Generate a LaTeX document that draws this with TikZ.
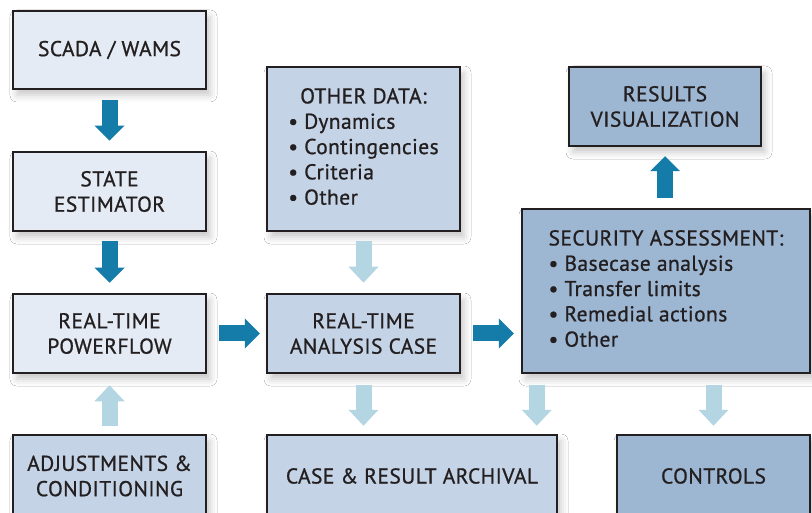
\documentclass[tikz,border=0pt]{standalone}
\usepackage{fontspec}
\setmainfont{PT Sans}[FakeBold=0.8, LetterSpace=2]
\usetikzlibrary{arrows.meta,shadows.blur}
\definecolor{lightfill}{HTML}{E4EBF4}
\definecolor{midfill}{HTML}{C4D3E6}
\definecolor{darkfill}{HTML}{9DB6D2}
\definecolor{boxline}{HTML}{231F20}
\definecolor{txt}{HTML}{231F20}
\definecolor{darkarrow}{HTML}{157BA9}
\definecolor{lightarrow}{HTML}{B4D6E3}
\begin{document}
\begin{tikzpicture}[x=1pt,y=-1pt,
  box/.style={draw=boxline, line width=2.5pt, inner sep=0pt, align=center,
    font=\fontsize{21.5}{25.3}\selectfont, text=txt,
    blur shadow={shadow xshift=4pt, shadow yshift=-6pt, shadow blur radius=7pt, shadow opacity=22}},
  lbox/.style={box, fill=lightfill},
  mbox/.style={box, fill=midfill},
  dbox/.style={box, fill=darkfill},
  darr/.style={draw=darkarrow, line width=16pt,
    -{Triangle[width=30pt,length=15pt,line width=0pt]}},
  larr/.style={draw=lightarrow, line width=16pt,
    -{Triangle[width=30pt,length=16pt,line width=0pt]}},
]
\useasboundingbox (0,0) rectangle (812,513);
\fill[white] (0,0) rectangle (812,513);

\node[lbox, minimum width=193pt, minimum height=78pt] (scada) at (109.5,50) {SCADA / WAMS};
\node[lbox, minimum width=193pt, minimum height=79pt] (state) at (109.5,191.5) {STATE\\ESTIMATOR};
\node[lbox, minimum width=193pt, minimum height=79pt] (power) at (109.5,333.5) {REAL-TIME\\POWERFLOW};
\node[mbox, minimum width=193pt, minimum height=82pt] (adjust) at (109.5,476) {ADJUSTMENTS \&\\CONDITIONING};

\node[mbox, minimum width=193pt, minimum height=164pt] (other) at (363.5,149)
  {\begin{tabular}{@{}l@{}}\multicolumn{1}{@{}c@{}}{OTHER DATA:}\\ • Dynamics\\ • Contingencies\\ • Criteria\\ • Other\end{tabular}};
\node[mbox, minimum width=193pt, minimum height=79pt] (analysis) at (363.5,333.5) {REAL-TIME\\ANALYSIS CASE};
\node[mbox, minimum width=290pt, minimum height=82pt] (archival) at (412,476) {CASE \& RESULT ARCHIVAL};

\node[dbox, minimum width=192pt, minimum height=79pt] (results) at (665,106.5) {RESULTS\\VISUALIZATION};
\node[dbox, minimum width=288pt, minimum height=164pt] (security) at (666,291)
  {\begin{tabular}{@{}l@{}}SECURITY ASSESSMENT:\\ • Basecase analysis\\ • Transfer limits\\ • Remedial actions\\ • Other\end{tabular}};
\node[dbox, minimum width=193pt, minimum height=82pt] (controls) at (713.5,476) {CONTROLS};

\draw[darr, shorten <=10pt, shorten >=10pt] (scada) -- (state);
\draw[darr, shorten <=9pt, shorten >=10pt] (state) -- (power);
\draw[darr, shorten <=12pt, shorten >=6pt] (power) -- (analysis);
\draw[darr, shorten <=12pt, shorten >=7pt] (analysis.east) -- (analysis.east -| security.west);
\draw[darr, shorten <=10pt, shorten >=9pt] (security.north -| results.south) -- (results.south);

\draw[larr, shorten <=9pt, shorten >=10pt] (other) -- (analysis);
\draw[larr, shorten <=8pt, shorten >=11pt] (adjust) -- (power);
\draw[larr, shorten <=11pt, shorten >=8pt] (analysis) -- (archival.north -| analysis.south);
\coordinate (sa) at ([xshift=16pt]security.south west);
\draw[larr, shorten <=11pt, shorten >=8pt] (sa) -- (sa |- archival.north);
\draw[larr, shorten <=11pt, shorten >=8pt] (security.south -| controls.north) -- (controls.north);
\end{tikzpicture}
\end{document}
